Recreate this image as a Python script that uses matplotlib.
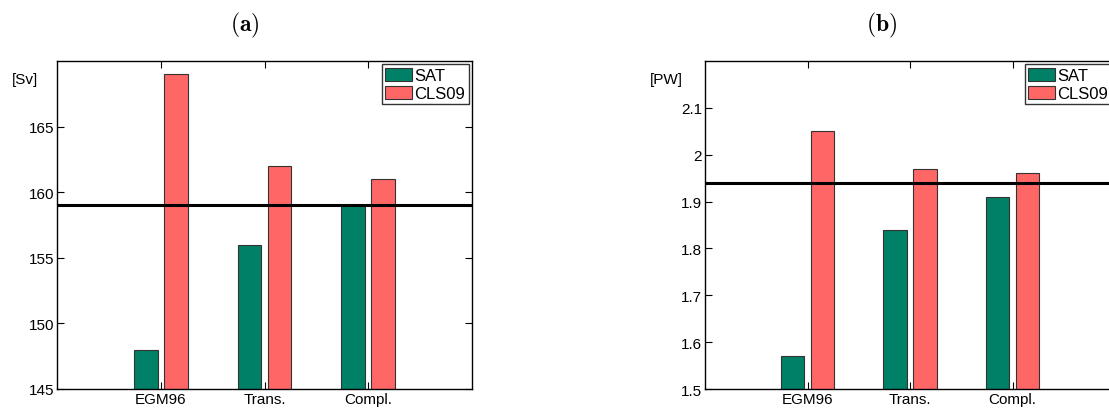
import numpy as np
import matplotlib.pyplot as plt

plt.rcParams['font.family'] = ['Liberation Sans', 'DejaVu Sans']
plt.rcParams['mathtext.fontset'] = 'cm'

categories = ['EGM96', 'Trans.', 'Compl.']
series = ['SAT', 'CLS09']
colors = ['#008066', '#ff6666']

# volume transport [Sv]
sv_sat = [148, 156, 159]
sv_cls = [169, 162, 161]
sv_ref = 159
sv_ticks = [145, 150, 155, 160, 165]

# heat transport [PW]
pw_sat = [1.57, 1.84, 1.91]
pw_cls = [2.05, 1.97, 1.96]
pw_ref = 1.94
pw_ticks = [1.5, 1.6, 1.7, 1.8, 1.9, 2.0, 2.1]
pw_ticklabels = ['1.5', '1.6', '1.7', '1.8', '1.9', '2', '2.1']

W, H = 1109, 414
fig = plt.figure(figsize=(W / 100, H / 100), dpi=100)


def panel(rect, sat, cls, ref, ylim, ticks, ticklabels, unit, unit_x, right=True):
    ax = fig.add_axes(rect)
    x = np.arange(1, len(categories) + 1)
    w = 0.23
    ax.bar(x - 0.145, sat, w, color=colors[0], edgecolor='#333333',
           linewidth=0.8, label=series[0], zorder=2)
    ax.bar(x + 0.145, cls, w, color=colors[1], edgecolor='#333333',
           linewidth=0.8, label=series[1], zorder=2)
    ax.axhline(ref, color='black', linewidth=2.2, zorder=3)
    ax.set_xlim(0, 4)
    ax.set_ylim(*ylim)
    ax.set_xticks(x)
    ax.set_xticklabels(categories, fontsize=11)
    ax.set_yticks(ticks)
    ax.set_yticklabels(ticklabels, fontsize=11)
    ax.tick_params(direction='in', top=True, right=right, length=5, width=0.8, pad=2)
    for s in ax.spines.values():
        s.set_linewidth(1.0)
    leg = ax.legend(loc='upper right', fontsize=12, frameon=True, fancybox=False,
                    edgecolor='black', borderaxespad=0.2, handlelength=1.6,
                    handleheight=0.85, handletextpad=0.15, labelspacing=0.15,
                    borderpad=0.2)
    leg.get_frame().set_linewidth(1.0)
    fig.text(unit_x / W, 1 - 80 / H, unit, fontsize=11, ha='center', va='center')
    return ax


def rect(x0, x1, y0=62, y1=390):
    return [x0 / W, 1 - y1 / H, (x1 - x0) / W, (y1 - y0) / H]


panel(rect(57, 472), sv_sat, sv_cls, sv_ref, (145, 170), sv_ticks,
      [str(t) for t in sv_ticks], '[Sv]', 25)
# right panel runs just past the figure edge
panel(rect(705, 1115), pw_sat, pw_cls, pw_ref, (1.5, 2.2), pw_ticks,
      pw_ticklabels, '[PW]', 666, right=False)

fig.text(245 / W, 1 - 25 / H, r'$\mathbf{(a)}$', fontsize=17, ha='center', va='center')
fig.text(882 / W, 1 - 25 / H, r'$\mathbf{(b)}$', fontsize=17, ha='center', va='center')

fig.savefig('out.png', dpi=100)
